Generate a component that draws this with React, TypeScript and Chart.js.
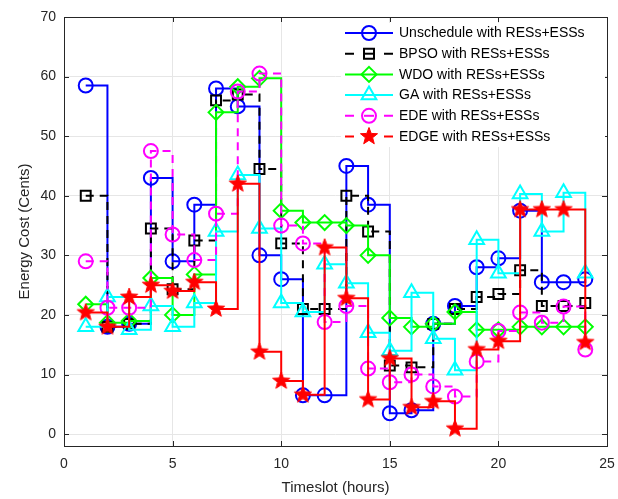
import React, { useEffect, useRef } from 'react';
import { Chart, registerables } from 'chart.js';

Chart.register(...registerables);

const hours = [1, 2, 3, 4, 5, 6, 7, 8, 9, 10, 11, 12, 13, 14, 15, 16, 17, 18, 19, 20, 21, 22, 23, 24];
const unschedule = [58.5, 18, 18.5, 43, 29, 38.5, 58, 55, 30, 26, 6.5, 6.5, 45, 38.5, 3.5, 4, 18.5, 21.5, 28, 29.5, 37.5, 25.5, 25.5, 26];
const bpso = [40, 18, 18.5, 34.5, 24.3, 32.5, 56, 57, 44.5, 32, 21, 21, 40, 34, 11.5, 11.2, 18.5, 21, 23, 23.5, 27.5, 21.5, 21.5, 22];
const wdo = [21.8, 18.7, 19, 26.2, 20, 26.8, 54, 58.3, 59.7, 37.5, 35.5, 35.5, 35, 30, 19.5, 18, 18.5, 20.5, 17.5, 17.5, 18, 18, 18, 18];
const ga = [18, 23, 17.5, 21.5, 18, 22, 34, 43.5, 34.5, 22, 20.5, 28.5, 25.3, 17, 14, 23.7, 16, 10.7, 32.6, 27, 40.3, 34, 40.5, 27];
const ede = [29, 21.2, 21.2, 47.5, 33.5, 29.2, 37, 57.5, 60.5, 35, 32, 18.8, 21.5, 11, 8.7, 10, 8, 6.3, 12.2, 17.3, 20.4, 18.7, 21.4, 14.2];
const edge = [20.4, 18, 23, 25, 24, 25.5, 21, 42, 13.8, 8.9, 6.6, 31.3, 22.8, 5.8, 12.7, 4.5, 5.5, 0.9, 14.2, 15.6, 37.7, 37.7, 37.7, 15.4];

const labels = [
  'Unschedule with RESs+ESSs',
  'BPSO with RESs+ESSs',
  'WDO with RESs+ESSs',
  'GA with RESs+ESSs',
  'EDE with RESs+ESSs',
  'EDGE with RESs+ESSs',
];
const xTicks = [0, 5, 10, 15, 20, 25];
const yTicks = [0, 10, 20, 30, 40, 50, 60, 70];

const FONT = '"Liberation Sans", Arial, Helvetica, sans-serif';
const AX = '#262626';

function makeStar(): HTMLCanvasElement {
  const c = document.createElement('canvas');
  c.width = 20;
  c.height = 20;
  const g = c.getContext('2d')!;
  drawStar(g, 10, 10, 9, 3.8);
  return c;
}

function drawStar(g: CanvasRenderingContext2D, cx: number, cy: number, R: number, r: number) {
  g.save();
  g.beginPath();
  for (let i = 0; i < 10; i++) {
    const rad = i % 2 === 0 ? R : r;
    const a = -Math.PI / 2 + (i * Math.PI) / 5;
    const px = cx + rad * Math.cos(a);
    const py = cy + rad * Math.sin(a);
    if (i === 0) g.moveTo(px, py);
    else g.lineTo(px, py);
  }
  g.closePath();
  g.fillStyle = '#ff0000';
  g.strokeStyle = '#ff0000';
  g.lineWidth = 1;
  g.fill();
  g.stroke();
  g.restore();
}

export default function App() {
  const ref = useRef<HTMLCanvasElement | null>(null);

  useEffect(() => {
    const canvas = ref.current;
    if (!canvas) return;
    const star = makeStar();

    const specs = [
      { data: unschedule, color: '#0000ff', style: 'circle', radius: 7, dash: [] as number[], order: 5 },
      { data: bpso, color: '#000000', style: 'rect', radius: 7, dash: [8, 6], order: 4 },
      { data: wdo, color: '#00ff00', style: 'rectRot', radius: 7.5, dash: [] as number[], order: 3 },
      { data: ga, color: '#00ffff', style: 'triangle', radius: 8.5, dash: [] as number[], order: 2 },
      { data: ede, color: '#ff00ff', style: 'circle', radius: 7, dash: [8, 6], order: 1 },
      { data: edge, color: '#ff0000', style: star as any, radius: 9, dash: [] as number[], order: 0 },
    ];

    const datasets = specs.map((s, i) => ({
      label: labels[i],
      data: hours.map((h, j) => ({ x: h, y: s.data[j] })),
      borderColor: s.color,
      backgroundColor: s.color,
      borderWidth: 2,
      borderDash: s.dash,
      stepped: true as const,
      pointStyle: s.style,
      pointRadius: s.radius,
      pointBorderColor: s.color,
      pointBackgroundColor: 'rgba(0,0,0,0)',
      pointBorderWidth: 2,
      order: s.order,
      fill: false,
    }));

    const deco = {
      id: 'deco',
      afterDraw(chart: any) {
        const { ctx, chartArea } = chart;
        const { left, right, top, bottom } = chartArea;
        const xs = chart.scales.x;
        const ys = chart.scales.y;
        ctx.save();
        ctx.strokeStyle = AX;
        ctx.lineWidth = 1;
        ctx.strokeRect(Math.round(left) + 0.5, Math.round(top) + 0.5, Math.round(right - left), Math.round(bottom - top));
        ctx.beginPath();
        xTicks.forEach((v) => {
          const px = Math.round(xs.getPixelForValue(v)) + 0.5;
          ctx.moveTo(px, bottom);
          ctx.lineTo(px, bottom - 5);
          ctx.moveTo(px, top);
          ctx.lineTo(px, top + 5);
        });
        yTicks.forEach((v) => {
          const py = Math.round(ys.getPixelForValue(v)) + 0.5;
          ctx.moveTo(left, py);
          ctx.lineTo(left + 5, py);
          ctx.moveTo(right, py);
          ctx.lineTo(right - 5, py);
        });
        ctx.stroke();

        ctx.fillStyle = AX;
        ctx.font = `15px ${FONT}`;
        ctx.textAlign = 'center';
        ctx.textBaseline = 'middle';
        ctx.fillText('Timeslot (hours)', (left + right) / 2, 488);
        ctx.save();
        ctx.translate(25, (top + bottom) / 2);
        ctx.rotate(-Math.PI / 2);
        ctx.fillText('Energy Cost (Cents)', 0, 0);
        ctx.restore();

        // legend
        const lx = 341;
        const ly = 23;
        const lw = 264;
        const lh = 124;
        ctx.fillStyle = '#ffffff';
        ctx.fillRect(lx, ly, lw, lh);
        const rowY0 = 33;
        const rowDy = 20.7;
        specs.forEach((s, i) => {
          const y = rowY0 + i * rowDy;
          const x1 = 345;
          const x2 = 393;
          const cx = 369;
          ctx.save();
          ctx.strokeStyle = s.color;
          ctx.lineWidth = 2;
          const dashed = i === 1 || i === 4 || i === 5;
          ctx.beginPath();
          if (dashed) {
            ctx.moveTo(x1, y);
            ctx.lineTo(x1 + 9, y);
            ctx.moveTo(x2 - 9, y);
            ctx.lineTo(x2, y);
          } else {
            ctx.moveTo(x1, y);
            ctx.lineTo(x2, y);
          }
          ctx.stroke();
          ctx.restore();
          ctx.save();
          ctx.strokeStyle = s.color;
          ctx.lineWidth = 2;
          if (i === 5) {
            drawStar(ctx, cx, y, 9, 3.8);
          } else {
            ctx.beginPath();
            if (s.style === 'circle') {
              ctx.arc(cx, y, 7, 0, Math.PI * 2);
            } else if (s.style === 'rect') {
              ctx.rect(cx - 5, y - 5, 10, 10);
            } else if (s.style === 'rectRot') {
              ctx.moveTo(cx, y - 7.5);
              ctx.lineTo(cx + 7.5, y);
              ctx.lineTo(cx, y + 7.5);
              ctx.lineTo(cx - 7.5, y);
              ctx.closePath();
            } else if (s.style === 'triangle') {
              const r = 8.5;
              ctx.moveTo(cx, y - r);
              ctx.lineTo(cx + r * Math.sin(Math.PI / 3), y + r / 2);
              ctx.lineTo(cx - r * Math.sin(Math.PI / 3), y + r / 2);
              ctx.closePath();
            }
            ctx.stroke();
            if (i === 1 || i === 4) {
              ctx.beginPath();
              ctx.moveTo(cx - 5, y);
              ctx.lineTo(cx + 5, y);
              ctx.stroke();
            }
          }
          ctx.restore();
          ctx.fillStyle = '#000000';
          ctx.font = `14px ${FONT}`;
          ctx.textAlign = 'left';
          ctx.textBaseline = 'middle';
          ctx.fillText(labels[i], 399, y + 0.5);
        });
        ctx.restore();
      },
    };

    const chart = new Chart(canvas, {
      type: 'line',
      data: { datasets: datasets as any },
      options: {
        responsive: false,
        animation: false,
        devicePixelRatio: 1,
        events: [],
        layout: { padding: { top: 17, right: 7, left: 0, bottom: 0 } },
        plugins: {
          legend: { display: false },
          tooltip: { enabled: false },
        },
        scales: {
          x: {
            type: 'linear',
            min: 0,
            max: 25,
            afterBuildTicks: (s: any) => {
              s.ticks = xTicks.map((v) => ({ value: v }));
            },
            afterFit: (s: any) => {
              s.height = 53;
              s.paddingLeft = 0;
              s.paddingRight = 0;
            },
            grid: { color: '#e6e6e6', lineWidth: 1, drawTicks: false },
            border: { display: false },
            ticks: {
              padding: 10,
              color: AX,
              maxRotation: 0,
              autoSkip: false,
              font: { family: FONT, size: 14 },
            },
          },
          y: {
            type: 'linear',
            min: -2,
            max: 70,
            afterBuildTicks: (s: any) => {
              s.ticks = yTicks.map((v) => ({ value: v }));
            },
            afterFit: (s: any) => {
              s.width = 64;
              s.paddingTop = 0;
              s.paddingBottom = 0;
            },
            grid: { color: '#e6e6e6', lineWidth: 1, drawTicks: false },
            border: { display: false },
            ticks: {
              padding: 8,
              color: AX,
              autoSkip: false,
              font: { family: FONT, size: 14 },
            },
          },
        },
      },
      plugins: [deco],
    });

    return () => {
      chart.destroy();
    };
  }, []);

  return (
    <div style={{ position: 'absolute', left: 0, top: 0, width: 618, height: 499, background: '#fff' }}>
      <canvas ref={ref} width={618} height={499} style={{ width: 618, height: 499, display: 'block' }} />
    </div>
  );
}
